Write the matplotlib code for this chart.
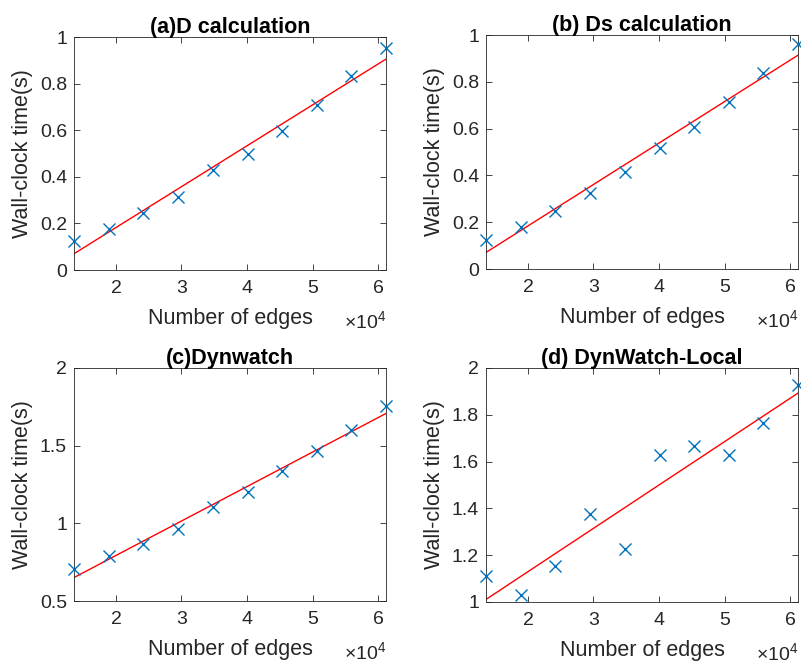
import numpy as np
import matplotlib.pyplot as plt
from matplotlib.ticker import FuncFormatter

plt.rcParams['font.family'] = ['Liberation Sans', 'DejaVu Sans']
plt.rcParams['mathtext.fontset'] = 'custom'
plt.rcParams['mathtext.rm'] = 'Liberation Sans'

# number of edges (same for every panel)
edges = [13600, 18900, 24200, 29500, 34800, 40100, 45300, 50600, 55900, 61200]

# wall-clock times
d_calc = [0.123, 0.175, 0.244, 0.315, 0.431, 0.499, 0.596, 0.709, 0.831, 0.954]
ds_calc = [0.122, 0.178, 0.249, 0.324, 0.413, 0.519, 0.605, 0.715, 0.839, 0.960]
dynwatch = [0.704, 0.790, 0.868, 0.965, 1.105, 1.202, 1.335, 1.468, 1.600, 1.757]
dyn_local = [1.113, 1.030, 1.155, 1.374, 1.227, 1.629, 1.668, 1.629, 1.767, 1.929]

titles = ['(a)D calculation', '(b) Ds calculation', '(c)Dynwatch', '(d) DynWatch-Local']
series = [d_calc, ds_calc, dynwatch, dyn_local]
ylims = [(0, 1), (0, 1), (0.5, 2), (1, 2)]
yticks = [[0, 0.2, 0.4, 0.6, 0.8, 1], [0, 0.2, 0.4, 0.6, 0.8, 1],
          [0.5, 1, 1.5, 2], [1, 1.2, 1.4, 1.6, 1.8, 2]]

W, H = 801, 662
fig = plt.figure(figsize=(W / 100, H / 100), dpi=100)

# axes boxes in pixels: left, top, right, bottom
boxes = [(74, 37, 386, 270), (486, 35, 798, 269),
         (74, 368, 386, 601), (486, 368, 798, 602)]

txt = '#262626'
blue = '#0072BD'

for i in range(4):
    l, t, r, b = boxes[i]
    ax = fig.add_axes([l / W, 1 - b / H, (r - l) / W, (b - t) / H])
    x = np.array(edges, dtype=float)
    y = np.array(series[i])
    ax.plot(x, y, 'x', color=blue, markersize=8, markeredgewidth=1.0, clip_on=False, zorder=3)
    # least-squares line
    k, c = np.polyfit(x, y, 1)
    ax.plot(x[[0, -1]], k * x[[0, -1]] + c, color='red', linewidth=1.0, zorder=2)
    ax.set_xlim(x[0], x[-1])
    ax.set_ylim(*ylims[i])
    ax.set_xticks([20000, 30000, 40000, 50000, 60000])
    ax.xaxis.set_major_formatter(FuncFormatter(lambda v, p: '%g' % (v / 1e4)))
    ax.set_yticks(yticks[i])
    ax.yaxis.set_major_formatter(FuncFormatter(lambda v, p: '%g' % v))
    ax.tick_params(direction='in', top=True, right=True, length=4, width=0.6,
                   labelsize=14, colors=txt)
    ax.tick_params(axis='x', pad=7)
    ax.tick_params(axis='y', pad=5)
    for sp in ax.spines.values():
        sp.set_color(txt)
        sp.set_linewidth(0.6)
    ax.set_title(titles[i], fontsize=15.5, fontweight='bold', color='black', pad=3)
    ax.set_xlabel('Number of edges', fontsize=15.5, color=txt, labelpad=8)
    ax.set_ylabel('Wall-clock time(s)', fontsize=15.5, color=txt, labelpad=5)
    ax.text(1.0, -0.253, r'$\times 10^{4}$', transform=ax.transAxes, ha='right',
            va='baseline', fontsize=14, color=txt)

fig.savefig('out.png', dpi=100)
